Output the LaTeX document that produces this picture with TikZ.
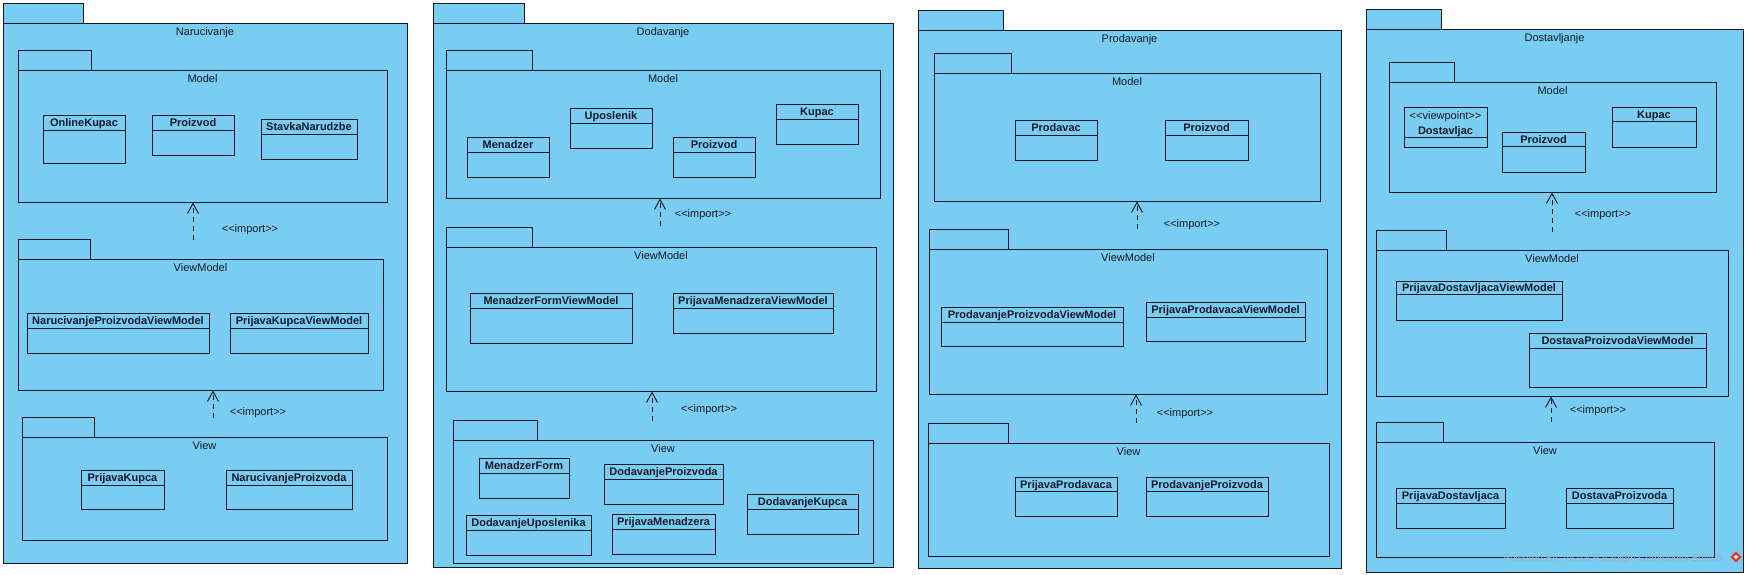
\documentclass[tikz,border=0pt]{standalone}
\usepackage{fontspec}
\setmainfont{Liberation Sans}
\usetikzlibrary{arrows.meta}
\definecolor{pkgfill}{RGB}{122,205,242}
\definecolor{ink}{RGB}{20,24,36}
\definecolor{wm}{RGB}{150,178,196}
\definecolor{vpred}{RGB}{220,60,40}
\tikzset{
  pkgbox/.style={draw=ink, fill=pkgfill, line width=0.95pt, inner sep=0pt, rectangle},
  clsbox/.style={draw=ink, fill=pkgfill, line width=0.95pt, inner sep=0pt, rectangle},
  hdrline/.style={draw=ink, line width=0.95pt},
  pkglabel/.style={text=ink, font=\fontsize{11}{13}\selectfont, inner sep=0pt, anchor=base},
  clslabel/.style={text=ink, font=\fontsize{11}{13}\selectfont\bfseries, inner sep=0pt, anchor=base},
  stlabel/.style={text=ink, font=\fontsize{11}{13}\selectfont, inner sep=0pt, anchor=base},
  implabel/.style={text=ink, font=\fontsize{11}{13}\selectfont, inner sep=0pt, anchor=base},
  imp/.style={draw=ink, line width=0.95pt, dash pattern=on 5pt off 4pt, -{Straight Barb[length=10pt,width=11pt]}},
  wmark/.style={text=wm, font=\fontsize{10}{12}\selectfont, inner sep=0pt, anchor=base},
}
% package: name, x1, y1(body top), x2, y2, tab right, tab top, label
\newcommand{\pkg}[8]{%
  \node[pkgbox, minimum width={(#6-#2)*1pt}, minimum height={(#3-#7)*1pt}] (#1tab) at ({(#2+#6)/2},{(#7+#3)/2}) {};
  \node[pkgbox, minimum width={(#4-#2)*1pt}, minimum height={(#5-#3)*1pt}] (#1) at ({(#2+#4)/2},{(#3+#5)/2}) {};
  \node[pkglabel] (#1lbl) at ({(#2+#4)/2},{#3+12.5}) {#8};
}
% class: name, x1, y1, x2, y2, header y, text
\newcommand{\cls}[7]{%
  \node[clsbox, minimum width={(#4-#2)*1pt}, minimum height={(#5-#3)*1pt}] (#1) at ({(#2+#4)/2},{(#3+#5)/2}) {};
  \draw[hdrline] (#2,#6) -- (#4,#6);
  \node[clslabel] (#1lbl) at ({(#2+#4)/2},{(#3+#6)/2+4}) {#7};
}
\newcommand{\impl}{<\kern0pt<import>\kern0pt>}
\begin{document}
\begin{tikzpicture}[x=1pt,y=-1pt]
\fill[white] (0,0) rectangle (1747,575);
\useasboundingbox (0,0) rectangle (1747,575);

% ================= Narucivanje =================
\pkg{P1}{3}{23}{407}{563}{83}{3}{Narucivanje}
\pkg{M1}{18}{70}{387}{202}{91}{50}{Model}
\cls{c11}{43}{115}{125}{163}{130}{OnlineKupac}
\cls{c12}{152}{115}{234}{155}{130}{Proizvod}
\cls{c13}{261}{119}{357}{159}{134}{StavkaNarudzbe}
\pkg{VM1}{18}{259}{383}{390}{90}{239}{ViewModel}
\cls{c14}{27}{313}{209}{353}{328}{NarucivanjeProizvodaViewModel}
\cls{c15}{230}{313}{368}{353}{328}{PrijavaKupcaViewModel}
\pkg{V1}{22}{437}{387}{540}{94}{417}{View}
\cls{c16}{81}{470}{164}{509}{485}{PrijavaKupca}
\cls{c17}{226}{470}{352}{509}{485}{NarucivanjeProizvoda}
\coordinate (a11) at (193,240);
\draw[imp] (a11) -- (a11 |- M1.south);
\node[implabel] (l11) at (250,232) {\impl};
\coordinate (a12) at (213,418);
\draw[imp] (a12) -- (a12 |- VM1.south);
\node[implabel] (l12) at (258,415) {\impl};

% ================= Dodavanje =================
\pkg{P2}{433}{23}{893}{567}{524}{3}{Dodavanje}
\pkg{M2}{446}{70}{880}{198}{532}{50}{Model}
\cls{c21}{467}{137}{549}{177}{152}{Menadzer}
\cls{c22}{570}{108}{652}{148}{123}{Uposlenik}
\cls{c23}{673}{137}{755}{177}{152}{Proizvod}
\cls{c24}{776}{104}{858}{144}{119}{Kupac}
\pkg{VM2}{446}{247}{876}{391}{532}{227}{ViewModel}
\cls{c25}{470}{293}{632}{343}{308}{MenadzerFormViewModel}
\cls{c26}{673}{293}{833}{333}{308}{PrijavaMenadzeraViewModel}
\pkg{V2}{453}{440}{873}{563}{537}{420}{View}
\cls{c27}{479}{458}{569}{498}{473}{MenadzerForm}
\cls{c28}{604}{464}{723}{504}{479}{DodavanjeProizvoda}
\cls{c29}{747}{494}{858}{534}{509}{DodavanjeKupca}
\cls{c2a}{466}{515}{591}{555}{530}{DodavanjeUposlenika}
\cls{c2b}{612}{514}{715}{554}{529}{PrijavaMenadzera}
\coordinate (a21) at (660,226);
\draw[imp] (a21) -- (a21 |- M2.south);
\node[implabel] (l21) at (703,217) {\impl};
\coordinate (a22) at (652,421);
\draw[imp] (a22) -- (a22 |- VM2.south);
\node[implabel] (l22) at (709,412) {\impl};

% ================= Prodavanje =================
\pkg{P3}{918}{30}{1341}{568}{1003}{10}{Prodavanje}
\pkg{M3}{934}{73}{1320}{201}{1011}{53}{Model}
\cls{c31}{1015}{120}{1097}{160}{135}{Prodavac}
\cls{c32}{1165}{120}{1248}{160}{135}{Proizvod}
\pkg{VM3}{929}{249}{1327}{394}{1008}{229}{ViewModel}
\cls{c33}{941}{307}{1123}{346}{322}{ProdavanjeProizvodaViewModel}
\cls{c34}{1146}{302}{1305}{341}{317}{PrijavaProdavacaViewModel}
\pkg{V3}{928}{443}{1329}{556}{1008}{423}{View}
\cls{c35}{1015}{477}{1117}{516}{491}{PrijavaProdavaca}
\cls{c36}{1146}{477}{1268}{516}{491}{ProdavanjeProizvoda}
\coordinate (a31) at (1137,229);
\draw[imp] (a31) -- (a31 |- M3.south);
\node[implabel] (l31) at (1192,227) {\impl};
\coordinate (a32) at (1136,423);
\draw[imp] (a32) -- (a32 |- VM3.south);
\node[implabel] (l32) at (1185,416) {\impl};

% ================= Dostavljanje =================
\pkg{P4}{1366}{29}{1743}{572}{1441}{9}{Dostavljanje}
\pkg{M4}{1389}{82}{1716}{192}{1454}{62}{Model}
\node[clsbox, minimum width=83pt, minimum height=40pt] (c41) at (1445.5,127) {};
\draw[hdrline] (1404,137) -- (1487,137);
\node[stlabel] (c41st) at (1445.5,120) {<\kern0pt<viewpoint>\kern0pt>};
\node[clslabel] (c41lbl) at (1445.5,135) {Dostavljac};
\cls{c42}{1502}{132}{1585}{172}{146}{Proizvod}
\cls{c43}{1612}{107}{1696}{147}{121}{Kupac}
\pkg{VM4}{1376}{250}{1728}{396}{1446}{230}{ViewModel}
\cls{c44}{1396}{281}{1562}{320}{294}{PrijavaDostavljacaViewModel}
\cls{c45}{1529}{333}{1706}{387}{348}{DostavaProizvodaViewModel}
\pkg{V4}{1376}{442}{1714}{557}{1443}{422}{View}
\cls{c46}{1396}{488}{1505}{528}{503}{PrijavaDostavljaca}
\cls{c47}{1566}{488}{1673}{528}{503}{DostavaProizvoda}
\coordinate (a41) at (1552,232);
\draw[imp] (a41) -- (a41 |- M4.south);
\node[implabel] (l41) at (1603,217) {\impl};
\coordinate (a42) at (1551,422);
\draw[imp] (a42) -- (a42 |- VM4.south);
\node[implabel] (l42) at (1598,413) {\impl};

% watermark
\node[wmark] (wm) at (1613,561.5) {Powered By \ Visual Paradigm Community Edition};
\node[fill=vpred, minimum size=8pt, inner sep=0pt, rotate=45] (vpicon) at (1736,557) {};
\node[fill=white, minimum size=3pt, inner sep=0pt, rotate=45] (vpicon2) at (1736,557) {};
\end{tikzpicture}
\end{document}
